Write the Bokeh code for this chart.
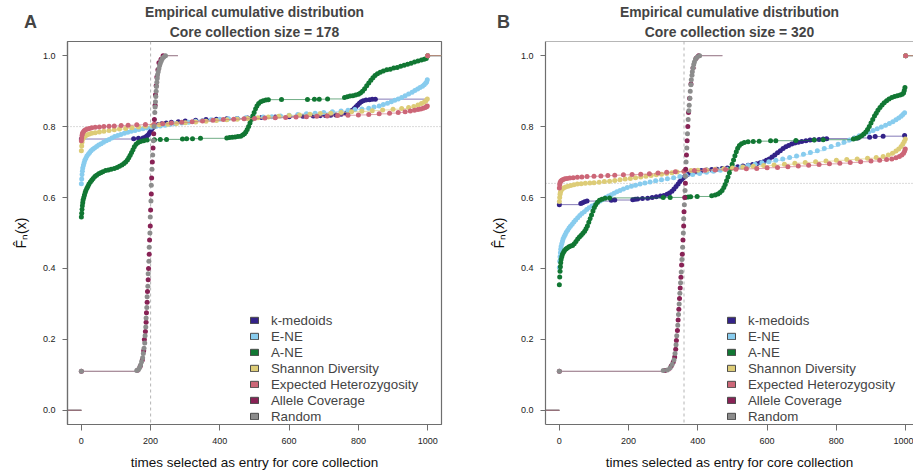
from bokeh.plotting import figure
from bokeh.models import (Range1d, Legend, LegendItem, Title, Label, Span,
                          PrintfTickFormatter)
from bokeh.layouts import row
from bokeh.embed import file_html
from bokeh.resources import INLINE

# ---------------------------------------------------------------- data
NAMES = ["k-medoids", "E-NE", "A-NE", "Shannon Diversity",
         "Expected Heterozygosity", "Allele Coverage", "Random"]
COLORS = ["#332288", "#88CCEE", "#117733", "#DDCC77",
          "#CC6677", "#882255", "#8C8C8C"]
X_TICKS = [0, 200, 400, 600, 800, 1000]
Y_TICKS = [0.0, 0.2, 0.4, 0.6, 0.8, 1.0]

A_SIZE = 178
B_SIZE = 320
A_VLINE, A_HLINE = 200, 0.8
B_VLINE, B_HLINE = 360, 0.64
# x where the last flat step of each ECDF stops
A_RIGHT_END = [1100, 1100, 1100, 1100, 1100, 279, 279]
B_RIGHT_END = [1100, 1100, 1100, 1100, 1100, 471, 471]

# ECDF knots (times selected, F_n) -- panel A
A_KMED = [(0, .765), (151, .766), (165, .767), (178, .768), (185, .771), (190, .774), (194, .778),
          (197, .783), (200, .788), (203, .793), (206, .797), (210, .801), (215, .804), (222, .806),
          (232, .808), (245, .810), (260, .812), (280, .814), (300, .816), (330, .818), (360, .820),
          (390, .821), (420, .822), (450, .823), (480, .824), (520, .826), (560, .827), (600, .828),
          (640, .829), (670, .830), (690, .8305), (705, .831), (720, .832), (735, .833), (750, .835),
          (765, .838), (775, .842), (782, .846), (788, .851), (793, .856), (798, .861), (803, .866),
          (808, .870), (814, .873), (822, .875), (832, .876), (840, .877), (849, .8775), (1000, 1.0)]
A_ENE = [(0, .639), (1, .652), (2, .664), (3, .674), (4, .683), (6, .691), (8, .698), (10, .705),
         (13, .711), (16, .717), (20, .722), (24, .727), (28, .732), (33, .736), (38, .740), (44, .744),
         (50, .748), (57, .752), (64, .756), (72, .760), (80, .764), (88, .768), (96, .772), (105, .775),
         (114, .778), (124, .781), (134, .784), (144, .787), (155, .789), (166, .792), (178, .794),
         (190, .796), (202, .798), (215, .800), (228, .802), (242, .804), (256, .806), (270, .808),
         (290, .810), (310, .812), (330, .815), (350, .817), (375, .819), (400, .821), (425, .822),
         (450, .823), (475, .825), (500, .826), (525, .827), (550, .828), (575, .830), (600, .832),
         (625, .834), (650, .836), (675, .838), (700, .840), (725, .842), (750, .844), (770, .846),
         (790, .848), (810, .850), (830, .852), (845, .855), (860, .858), (872, .862), (884, .866),
         (895, .870), (905, .874), (915, .878), (925, .882), (935, .887), (945, .892), (955, .897),
         (963, .902), (971, .906), (978, .910), (985, .914), (990, .918), (994, .922), (997, .926),
         (999, .932), (1000, 1.0)]
A_ANE = [(0, .545), (1, .556), (2, .566), (3, .576), (4, .585), (5, .593), (7, .600), (9, .607),
         (11, .614), (13, .620), (16, .626), (19, .632), (22, .638), (26, .644), (30, .649), (34, .654),
         (39, .659), (44, .663), (50, .667), (56, .670), (62, .673), (70, .676), (78, .678), (86, .680),
         (95, .682), (103, .685), (110, .688), (117, .692), (123, .696), (128, .700), (133, .706),
         (137, .712), (141, .719), (145, .727), (149, .735), (153, .743), (158, .750), (164, .755),
         (171, .758), (180, .760), (190, .762), (211, .763), (228, .7635), (246, .764), (292, .765),
         (304, .7655), (321, .766), (344, .767), (420, .768), (428, .769), (436, .770), (444, .771),
         (452, .772), (460, .773), (466, .776), (471, .780), (475, .785), (479, .792), (483, .800),
         (487, .810), (491, .820), (495, .830), (499, .840), (503, .850), (507, .858), (512, .865),
         (518, .870), (525, .873), (533, .875), (540, .876), (578, .8763), (653, .8766), (673, .877),
         (687, .8773), (711, .878), (760, .882), (768, .884), (776, .886), (784, .887), (792, .889),
         (800, .891), (806, .895), (812, .900), (818, .907), (824, .915), (830, .923), (836, .931),
         (842, .938), (848, .944), (855, .949), (863, .953), (872, .957), (882, .960), (892, .962),
         (902, .965), (912, .967), (922, .970), (932, .973), (942, .976), (952, .979), (962, .982),
         (972, .985), (982, .988), (990, .990), (996, .992), (1000, 1.0)]
A_SHAN = [(0, .732), (1, .745), (2, .755), (3, .762), (5, .767), (8, .771), (12, .774), (17, .777),
          (23, .779), (30, .781), (40, .783), (52, .785), (65, .787), (80, .789), (95, .791), (110, .793),
          (128, .795), (146, .797), (165, .799), (185, .801), (205, .803), (225, .805), (250, .807),
          (275, .809), (300, .811), (330, .813), (360, .815), (390, .817), (420, .819), (450, .821),
          (480, .823), (510, .825), (540, .827), (570, .829), (600, .831), (630, .833), (660, .835),
          (690, .837), (720, .838), (750, .840), (780, .842), (810, .843), (840, .845), (870, .847),
          (900, .849), (925, .851), (945, .854), (960, .857), (972, .861), (982, .865), (990, .869),
          (995, .873), (999, .878), (1000, 1.0)]
A_EHET = [(0, .760), (1, .768), (2, .775), (3, .780), (5, .784), (8, .788), (12, .791), (17, .793),
          (23, .795), (30, .797), (40, .798), (52, .799), (65, .800), (80, .801), (95, .802), (115, .803),
          (135, .804), (160, .805), (185, .806), (210, .807), (235, .808), (260, .810), (290, .812),
          (320, .814), (350, .816), (380, .818), (410, .820), (440, .821), (470, .822), (500, .823),
          (530, .824), (560, .825), (590, .826), (620, .827), (650, .828), (680, .829), (710, .830),
          (740, .831), (770, .832), (800, .833), (830, .834), (860, .836), (890, .838), (915, .840),
          (935, .842), (950, .844), (962, .846), (972, .848), (980, .850), (987, .852), (993, .854),
          (997, .856), (999, .858), (1000, 1.0)]
A_ALLC = [(0, .110), (162, .113), (170, .124), (176, .142), (180, .168), (182, .200), (185, .222),
          (187, .248), (188, .275), (190, .305), (191, .335), (193, .368), (194, .400), (196, .440),
          (197, .480), (199, .520), (200, .565), (202, .610), (203, .655), (205, .700), (207, .740),
          (209, .780), (211, .820), (213, .860), (214, .890), (216, .915), (218, .940), (221, .960),
          (224, .980), (230, .990), (236, 1.0)]
A_RAND = [(0, .110), (160, .112), (165, .115), (168, .120), (171, .128), (174, .137), (177, .148),
          (179, .160), (181, .175), (183, .190), (184, .210), (186, .235), (187, .260), (189, .290),
          (190, .320), (192, .350), (193, .385), (195, .420), (196, .460), (198, .500), (199, .545),
          (201, .590), (202, .635), (204, .680), (206, .720), (208, .760), (210, .800), (212, .840),
          (213, .855), (214, .870), (215, .885), (216, .900), (217, .913), (218, .925), (219, .936),
          (220, .946), (222, .955), (224, .964), (226, .972), (228, .979), (231, .986), (234, .992),
          (238, .996), (243, 1.0)]

# panel B
B_KMED = [(0, .580), (62, .583), (67, .585), (73, .588), (80, .590), (150, .592), (160, .593),
          (212, .594), (219, .595), (226, .596), (240, .597), (255, .598), (268, .600), (280, .602),
          (292, .604), (302, .606), (311, .609), (318, .613), (325, .618), (331, .624), (337, .631),
          (343, .638), (348, .645), (353, .651), (358, .656), (364, .661), (370, .665), (378, .669),
          (387, .672), (397, .674), (410, .676), (425, .678), (440, .679), (455, .680), (470, .682),
          (485, .683), (500, .685), (515, .687), (530, .689), (545, .691), (558, .693), (570, .695),
          (580, .698), (590, .701), (598, .705), (606, .709), (614, .714), (622, .720), (630, .726),
          (638, .732), (646, .738), (654, .743), (662, .747), (671, .751), (680, .754), (690, .756),
          (700, .758), (712, .760), (724, .762), (736, .763), (750, .764), (762, .765), (772, .766),
          (852, .767), (862, .768), (896, .770), (912, .772), (935, .773), (997, .775), (1000, 1.0)]
B_ENE = [(0, .403), (1, .420), (2, .433), (3, .444), (4, .454), (5, .462), (7, .470), (9, .477),
         (11, .484), (14, .490), (17, .496), (20, .502), (24, .508), (28, .514), (32, .519), (37, .525),
         (42, .531), (47, .537), (53, .543), (59, .549), (65, .555), (72, .560), (79, .566), (86, .571),
         (94, .576), (102, .580), (110, .585), (118, .590), (126, .595), (134, .600), (142, .604),
         (150, .608), (158, .612), (166, .616), (175, .620), (185, .624), (196, .628), (208, .632),
         (220, .635), (233, .638), (247, .641), (262, .644), (278, .647), (295, .650), (312, .653),
         (330, .656), (348, .659), (366, .662), (385, .665), (405, .668), (425, .671), (445, .674),
         (465, .677), (485, .680), (505, .683), (525, .686), (545, .690), (565, .694), (585, .698),
         (605, .701), (625, .705), (645, .709), (665, .713), (685, .717), (705, .722), (725, .727),
         (745, .732), (765, .738), (785, .744), (805, .750), (822, .756), (838, .762), (852, .768),
         (866, .774), (880, .779), (893, .784), (906, .789), (918, .794), (930, .799), (942, .804),
         (953, .809), (963, .814), (972, .819), (980, .824), (987, .829), (992, .834), (997, .839),
         (1000, 1.0)]
B_ANE = [(0, .354), (1, .376), (2, .392), (3, .405), (4, .416), (5, .425), (7, .433), (9, .440),
         (12, .446), (15, .451), (19, .455), (23, .458), (28, .461), (33, .463), (38, .465), (43, .470),
         (48, .476), (53, .483), (58, .489), (63, .494), (68, .499), (73, .505), (77, .512), (81, .520),
         (85, .530), (89, .540), (93, .551), (97, .562), (101, .572), (105, .580), (110, .587),
         (116, .592), (123, .595), (132, .598), (145, .599), (300, .600), (320, .6003), (365, .601),
         (372, .6015), (379, .602), (398, .603), (440, .605), (450, .607), (458, .610), (464, .614),
         (470, .620), (475, .628), (479, .637), (483, .647), (487, .658), (491, .670), (495, .682),
         (499, .694), (503, .706), (507, .718), (511, .729), (515, .739), (520, .747), (526, .752),
         (534, .755), (545, .757), (560, .758), (577, .759), (610, .760), (625, .7603), (683, .761),
         (736, .762), (762, .763), (849, .765), (858, .767), (866, .770), (873, .774), (879, .779),
         (885, .785), (890, .792), (895, .800), (900, .810), (905, .820), (910, .830), (915, .838),
         (920, .846), (926, .854), (932, .861), (938, .867), (945, .873), (952, .878), (960, .882),
         (968, .885), (976, .887), (984, .889), (990, .891), (994, .895), (996, .902), (998, .910),
         (1000, 1.0)]
B_SHAN = [(0, .589), (1, .600), (2, .609), (3, .615), (5, .620), (8, .624), (12, .627), (18, .630),
          (25, .632), (33, .634), (42, .636), (52, .638), (63, .639), (75, .640), (88, .641), (100, .642),
          (115, .643), (130, .645), (145, .646), (160, .648), (175, .650), (190, .652), (205, .654),
          (220, .656), (235, .658), (250, .660), (265, .662), (280, .664), (295, .666), (310, .668),
          (325, .670), (340, .672), (360, .674), (380, .676), (400, .677), (425, .678), (450, .680),
          (475, .681), (500, .683), (530, .686), (560, .688), (590, .690), (620, .692), (650, .694),
          (680, .697), (710, .699), (740, .701), (770, .703), (800, .705), (830, .707), (860, .709),
          (890, .711), (915, .713), (935, .716), (950, .720), (962, .725), (972, .731), (980, .737),
          (987, .744), (992, .751), (996, .758), (999, .765), (1000, 1.0)]
B_EHET = [(0, .627), (1, .636), (2, .642), (4, .646), (7, .649), (11, .651), (16, .653), (22, .654),
          (30, .655), (40, .656), (52, .657), (65, .658), (80, .659), (100, .660), (120, .661),
          (140, .662), (160, .663), (185, .664), (210, .665), (235, .666), (260, .667), (285, .669),
          (310, .671), (335, .673), (360, .674), (390, .676), (420, .677), (450, .678), (480, .679),
          (510, .680), (540, .681), (570, .682), (600, .684), (630, .685), (660, .687), (690, .689),
          (720, .691), (750, .693), (780, .695), (810, .697), (840, .699), (870, .701), (900, .703),
          (925, .705), (945, .707), (960, .709), (972, .712), (982, .716), (989, .720), (994, .725),
          (997, .731), (999, .737), (1000, 1.0)]
B_ALLC = [(0, .110), (305, .112), (323, .125), (329, .136), (333, .150), (336, .172), (338, .197),
          (341, .225), (343, .255), (345, .285), (347, .315), (349, .345), (351, .375), (353, .410),
          (355, .440), (357, .480), (359, .520), (360, .560), (362, .600), (364, .640), (365, .680),
          (367, .720), (369, .760), (371, .800), (373, .840), (376, .880), (380, .920), (386, .965),
          (395, .993), (402, 1.0)]
B_RAND = [(0, .110), (300, .112), (312, .114), (320, .120), (326, .130), (331, .142), (334, .160),
          (337, .185), (339, .210), (342, .240), (344, .270), (346, .300), (348, .330), (350, .360),
          (352, .390), (354, .425), (356, .460), (358, .500), (359, .540), (361, .580), (363, .620),
          (364, .660), (366, .700), (368, .740), (370, .780), (372, .820), (374, .845), (375, .860),
          (377, .880), (378, .900), (380, .918), (381, .932), (383, .945), (384, .955), (386, .965),
          (388, .975), (390, .982), (393, .990), (398, .996), (405, 1.0)]

A_SERIES = [A_KMED, A_ENE, A_ANE, A_SHAN, A_EHET, A_ALLC, A_RAND]
B_SERIES = [B_KMED, B_ENE, B_ANE, B_SHAN, B_EHET, B_ALLC, B_RAND]

# ---------------------------------------------------------------- styling
FONT = "Liberation Sans"
BOX = "#6e6e6e"
REF = "#b4b4b4"
NAN = float("nan")


def panel(letter, size, series, right_end, vline, hline, width,
          border_left, border_right, x_end, full_box, legend_x, letter_x,
          letter_side):
    p = figure(width=width, height=473, title=None,
               x_range=Range1d(-40, x_end), y_range=Range1d(-0.04, 1.04),
               output_backend="svg", toolbar_location=None,
               min_border_left=border_left, min_border_right=border_right,
               min_border_top=41, min_border_bottom=49)
    p.xgrid.visible = False
    p.ygrid.visible = False
    p.background_fill_color = "white"
    p.border_fill_color = "white"
    if full_box:
        p.outline_line_color = BOX
        p.outline_line_width = 1.2
    else:
        p.outline_line_color = None
        p.add_layout(Span(location=1.04, dimension="width", line_color=BOX,
                          line_width=1.2))

    # reference lines
    p.add_layout(Span(location=vline, dimension="height", line_color=REF,
                      line_dash="3 3", line_width=1, level="underlay"))
    p.add_layout(Span(location=hline, dimension="width", line_color=REF,
                      line_dash="1 2", line_width=1, level="underlay"))

    # ECDF steps (no verticals) and knots
    for pts, col, xr in zip(series, COLORS, right_end):
        xs = [q[0] for q in pts]
        ys = [q[1] for q in pts]
        x0 = [-100] + xs
        x1 = xs + [xr]
        yy = [0.0] + ys
        p.segment(x0=x0, y0=yy, x1=x1, y1=yy, line_color=col,
                  line_width=1, line_alpha=0.6)
        p.scatter(xs, ys, size=5, fill_color=col, line_color=None)

    # axes
    for ax in (p.xaxis[0], p.yaxis[0]):
        ax.axis_line_color = BOX
        ax.axis_line_width = 1.2
        ax.major_tick_line_color = BOX
        ax.minor_tick_line_color = None
        ax.major_tick_in = 0
        ax.major_label_text_font = FONT
        ax.major_label_text_font_size = "9px"
        ax.major_label_text_color = "#222222"
        ax.axis_label_text_font = FONT
        ax.axis_label_text_font_style = "normal"
        ax.axis_label_text_color = "#111111"
    p.xaxis.ticker = X_TICKS
    p.yaxis.ticker = Y_TICKS
    p.yaxis.formatter = PrintfTickFormatter(format="%.1f")
    p.xaxis.major_tick_out = 6
    p.yaxis.major_tick_out = 5
    p.xaxis.major_label_standoff = 7
    p.yaxis.major_label_standoff = 7
    p.xaxis.axis_label = "times selected as entry for core collection"
    p.xaxis.axis_label_text_font_size = "13.5px"
    p.xaxis.axis_label_standoff = 8
    p.yaxis.axis_label = "F\u0302\u2099(x)"
    p.yaxis.axis_label_text_font_size = "14px"
    p.yaxis.axis_label_standoff = 11

    # titles
    p.add_layout(Title(text=f"Core collection size = {size}", align="center",
                       text_font=FONT, text_font_size="13.9px",
                       text_font_style="bold", standoff=4), "above")
    p.add_layout(Title(text="Empirical cumulative distribution", align="center",
                       text_font=FONT, text_font_size="13.9px",
                       text_font_style="bold", standoff=0), "above")

    # panel letter (side panel so it is not clipped to the frame)
    p.add_layout(Label(x=letter_x, y=21.5, x_units="canvas", y_units="canvas",
                       text=letter, text_align="center",
                       text_baseline="middle", text_font=FONT,
                       text_font_size="18px", text_font_style="bold"),
                 letter_side)

    # legend
    items = []
    for name, col in zip(NAMES, COLORS):
        r = p.quad(left=[NAN], right=[NAN], top=[NAN], bottom=[NAN],
                   fill_color=col, line_color="#4a4a4a", line_width=1)
        items.append(LegendItem(label=name, renderers=[r]))
    leg = Legend(items=items, location=(legend_x, 0), padding=0, margin=0,
                 spacing=0, glyph_width=10, glyph_height=8, label_height=16,
                 label_standoff=12, label_text_font=FONT,
                 label_text_font_size="13.3px", border_line_color=None,
                 background_fill_alpha=0)
    p.add_layout(leg)
    return p


pa = panel("A", A_SIZE, A_SERIES, A_RIGHT_END, A_VLINE, A_HLINE, 463,
           67, 22, 1040, True, 182, 30, "right")
pb = panel("B", B_SIZE, B_SERIES, B_RIGHT_END, B_VLINE, B_HLINE, 450,
           82, 0, 1022.7, False, 181, 40, "left")

layout = row(pa, pb)
open("out.html", "w").write(file_html(layout, INLINE))
